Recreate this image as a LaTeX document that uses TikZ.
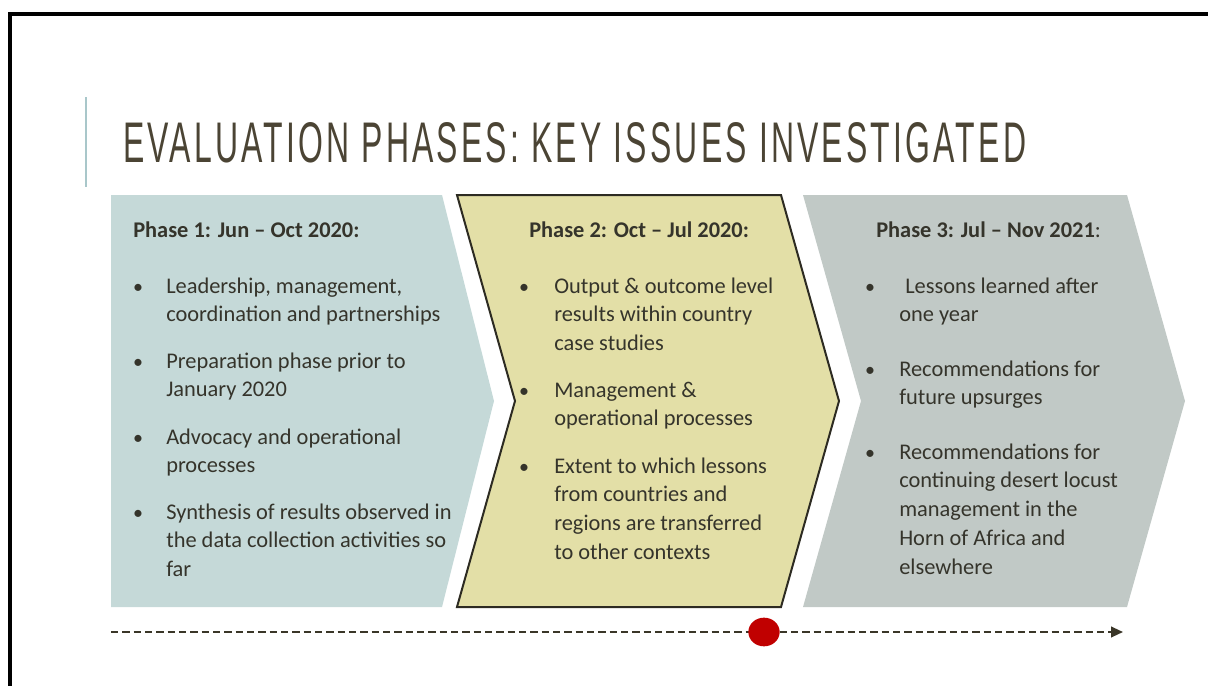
\documentclass[tikz,border=0pt]{standalone}
\usepackage{fontspec}
\setmainfont{Carlito}
\newfontfamily\titlefont[LetterSpace=10]{Liberation Sans}
\usetikzlibrary{arrows.meta,shapes.geometric}
\definecolor{inktext}{HTML}{35342B}
\definecolor{titleink}{HTML}{4B4434}
\definecolor{sidebar}{HTML}{A9C7CA}
\definecolor{phaseone}{HTML}{C5D9D8}
\definecolor{phasetwo}{HTML}{E3DFA7}
\definecolor{phasethree}{HTML}{C1C9C6}
\definecolor{edgeink}{HTML}{2D2B22}
\definecolor{lineink}{HTML}{3A3628}
\definecolor{nowred}{HTML}{C00000}
% chevron: left x, body width, tip depth, notch depth
\def\chevron[#1](#2,#3,#4)(#5){\draw[#1] (#2,\ytop) -- (#2+#3,\ytop) -- (#2+#3+#4,\ymid) -- (#2+#3,\ybot) -- (#2,\ybot) -- (#2+#5,\ymid) -- cycle;}
% bullet text, hung from the baseline of its first line
\def\itemlines#1{\parbox[t]{240pt}{\raggedright #1}}
\tikzset{
	txt/.style={inner sep=0pt, text=inktext, font=\fontsize{16.8}{21.7}\selectfont},
	phasehead/.style={txt, anchor=base west, font=\fontsize{16.8}{21.7}\selectfont\bfseries},
	phaseitem/.style={txt, anchor=base west},
	bulletdot/.style={txt, anchor=base, font=\fontsize{15}{21.7}\selectfont},
	timeline/.style={draw=lineink, line width=1.5pt, dash pattern=on 5.5pt off 3pt, -{Triangle[length=9pt,width=8pt]}},
}

\begin{document}
\begin{tikzpicture}[x=0.75pt,y=-0.75pt]
			%%%%% START %%%%%
			\def\ytop{195}
			\def\ybot{607}
			\def\ymid{401}
			\def\yhead{237}
			\def\yline{632}
			
			\useasboundingbox (0,0) rectangle (1208,686);
			
			% frame and title
			\draw[line width=2.4pt] (10,700) -- (10,14) -- (1220,14);
			\draw[sidebar, line width=1.5pt] (86,97) -- (86,187);
			\node[anchor=base west, inner sep=0pt, text=titleink] (title) at (123,162)
				{\resizebox{677pt}{30pt}{\titlefont EVALUATION PHASES: KEY ISSUES INVESTIGATED}};
			
			% the three phases
			\chevron[fill=phaseone, draw=none](111,331,52)(0);
			\chevron[fill=phasetwo, draw=edgeink, line width=1.5pt, line join=miter](457,324,58)(58);
			\chevron[fill=phasethree, draw=none](803,324,58)(58);
			
			% phase 1
			\node[phasehead] (h1) at (133,\yhead) {Phase 1: Jun – Oct 2020:};
			\node[bulletdot] (b11) at (138,293) {•};
			\node[phaseitem] (i11) at (166,293) {\itemlines{Leadership, management,\\coordination and partnerships}};
			\node[bulletdot] (b12) at (138,368) {•};
			\node[phaseitem] (i12) at (166,368) {\itemlines{Preparation phase prior to\\January 2020}};
			\node[bulletdot] (b13) at (138,444) {•};
			\node[phaseitem] (i13) at (166,444) {\itemlines{Advocacy and operational\\processes}};
			\node[bulletdot] (b14) at (138,519) {•};
			\node[phaseitem] (i14) at (166,519) {\itemlines{Synthesis of results observed in\\the data collection activities so\\far}};
			
			% phase 2
			\node[phasehead] (h2) at (529,\yhead) {Phase 2: Oct – Jul 2020:};
			\node[bulletdot] (b21) at (524,293) {•};
			\node[phaseitem] (i21) at (554,293) {\itemlines{Output \& outcome level\\results within country\\case studies}};
			\node[bulletdot] (b22) at (524,397) {•};
			\node[phaseitem] (i22) at (554,397) {\itemlines{Management \&\\operational processes}};
			\node[bulletdot] (b23) at (524,473) {•};
			\node[phaseitem] (i23) at (554,473) {\itemlines{Extent to which lessons\\from countries and\\regions are transferred\\to other contexts}};
			
			% phase 3
			\node[phasehead] (h3) at (876,\yhead) {Phase 3: Jul – Nov 2021\mdseries:};
			\node[bulletdot] (b31) at (870,293) {•};
			\node[phaseitem] (i31) at (905,293) {\itemlines{Lessons learned after\\\hspace*{-4.5pt}one year}};
			\node[bulletdot] (b32) at (870,376) {•};
			\node[phaseitem] (i32) at (899,376) {\itemlines{Recommendations for\\future upsurges}};
			\node[bulletdot] (b33) at (870,459) {•};
			\node[phaseitem] (i33) at (899,459) {\itemlines{Recommendations for\\continuing desert locust\\management in the\\Horn of Africa and\\elsewhere}};
			
			% time line
			\coordinate (tstart) at (111,\yline);
			\coordinate (tend) at (1123,\yline);
			\draw[timeline] (tstart) -- (tend);
			\node[fill=nowred, ellipse, minimum width=23.5pt, minimum height=21.5pt, inner sep=0pt] (now) at (764,\yline) {};
			%%%%% END %%%%%
\end{tikzpicture}
\end{document}
